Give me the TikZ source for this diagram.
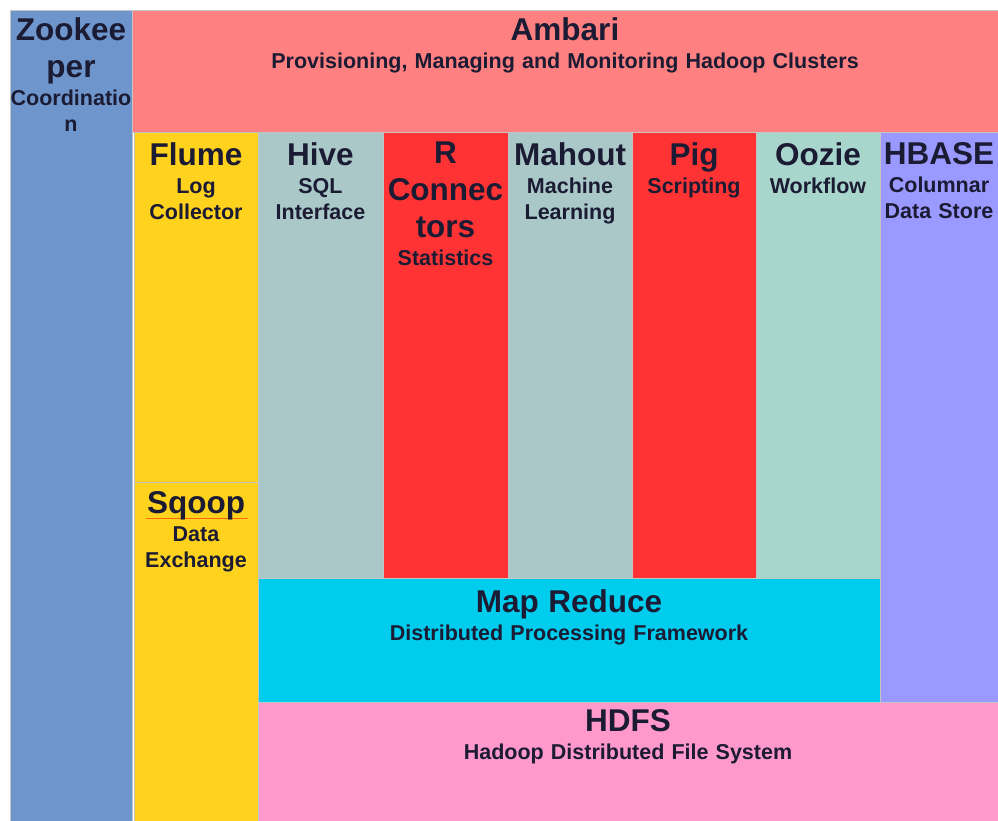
\documentclass[tikz,border=0pt]{standalone}
\usepackage{fontspec}
\setmainfont{Liberation Sans}
\usepackage{tikz}
\pgfdeclarelayer{boxlayer}
\pgfdeclarelayer{labellayer}
\pgfsetlayers{boxlayer,main,labellayer}
\definecolor{zkblue}{HTML}{6E96CD}
\definecolor{ambred}{HTML}{FF8080}
\definecolor{flumeyellow}{HTML}{FFD21E}
\definecolor{hivegray}{HTML}{AAC8C8}
\definecolor{ooziegreen}{HTML}{A8D6CC}
\definecolor{pigred}{HTML}{FF3333}
\definecolor{hbaseblue}{HTML}{9999FF}
\definecolor{mrcyan}{HTML}{00CCEE}
\definecolor{hdfspink}{HTML}{FF99CC}
\definecolor{linegray}{HTML}{C4C4C4}
\definecolor{ink}{HTML}{1B1B33}
\newcommand{\nohyph}{\hyphenpenalty=10000 \exhyphenpenalty=10000 }
\tikzstyle{block}=[draw=linegray, line width=0.8pt, rectangle, inner sep=0pt, outer sep=0pt, anchor=north west]
\tikzstyle{block text}=[anchor=north, inner sep=0pt, align=center, text=ink, font=\bfseries]
\newcommand{\btitle}[1]{\nohyph{\fontsize{31.5}{37}\selectfont\spaceskip=0.3em #1\par}\vskip2pt}
\newcommand{\bsub}[1]{{\fontsize{21.5}{26}\selectfont\spaceskip=0.33em #1\par}}

\begin{document}
\begin{tikzpicture}[x=1pt, y=-1pt]
    	\useasboundingbox (0, 0) rectangle (998, 821);
    	\begin{pgfonlayer}{boxlayer}
    		\node [style=block, fill=zkblue, minimum width=122pt, minimum height=811pt] (zk) at (10, 10) {};
    		\node [style=block, fill=ambred, minimum width=866pt, minimum height=122pt] (amb) at (132, 10) {};
    		\node [style=block, fill=flumeyellow, minimum width=124pt, minimum height=350pt] (flume) at (134, 132) {};
    		\node [style=block, fill=flumeyellow, minimum width=124pt, minimum height=339pt] (sqoop) at (134, 482) {};
    		\node [style=block, fill=hivegray, minimum width=125pt, minimum height=446pt] (hive) at (258, 132) {};
    		\node [style=block, fill=pigred, minimum width=125pt, minimum height=446pt] (rconn) at (383, 132) {};
    		\node [style=block, fill=hivegray, minimum width=124pt, minimum height=446pt] (mahout) at (508, 132) {};
    		\node [style=block, fill=pigred, minimum width=124pt, minimum height=446pt] (pig) at (632, 132) {};
    		\node [style=block, fill=ooziegreen, minimum width=124pt, minimum height=446pt] (oozie) at (756, 132) {};
    		\node [style=block, fill=hbaseblue, minimum width=118pt, minimum height=570pt] (hbase) at (880, 132) {};
    		\node [style=block, fill=mrcyan, minimum width=622pt, minimum height=124pt] (mapred) at (258, 578) {};
    		\node [style=block, fill=hdfspink, minimum width=740pt, minimum height=119pt] (hdfs) at (258, 702) {};
    	\end{pgfonlayer}
    	\begin{pgfonlayer}{labellayer}
    		\node [style=block text, text width=122pt] (zkl) at ([yshift=-7pt]zk.north) {\btitle{Zookee\par per}\bsub{Coordinatio\par n}};
    		\node [style=block text, text width=800pt] (ambl) at ([yshift=-7pt]amb.north) {\btitle{Ambari}\bsub{Provisioning, Managing and Monitoring Hadoop Clusters}};
    		\node [style=block text, text width=124pt] (flumel) at ([yshift=-10pt]flume.north) {\btitle{Flume}\bsub{Log\par Collector}};
    		\node [style=block text, text width=124pt] (sqoopl) at ([yshift=-9pt]sqoop.north) {\btitle{Sqoop}\bsub{Data\par Exchange}};
    		\node [style=block text, text width=125pt] (hivel) at ([yshift=-10pt]hive.north) {\btitle{Hive}\bsub{SQL\par Interface}};
    		\node [style=block text, text width=125pt] (rconnl) at ([yshift=-10pt]rconn.north) {\btitle{R\par Connec\par tors}\bsub{Statistics}};
    		\node [style=block text, text width=124pt] (mahoutl) at ([yshift=-10pt]mahout.north) {\btitle{Mahout}\bsub{Machine\par Learning}};
    		\node [style=block text, text width=124pt] (pigl) at ([yshift=-10pt]pig.north) {\btitle{Pig}\bsub{Scripting}};
    		\node [style=block text, text width=124pt] (ooziel) at ([yshift=-10pt]oozie.north) {\btitle{Oozie}\bsub{Workflow}};
    		\node [style=block text, text width=118pt] (hbasel) at ([yshift=-10pt]hbase.north) {\btitle{HBASE}\bsub{Columnar\par Data Store}};
    		\node [style=block text, text width=600pt] (mapredl) at ([yshift=-11pt]mapred.north) {\btitle{Map Reduce}\bsub{Distributed Processing Framework}};
    		\node [style=block text, text width=700pt] (hdfsl) at ([yshift=-7pt]hdfs.north) {\btitle{HDFS}\bsub{Hadoop Distributed File System}};
    	\end{pgfonlayer}
    	% spell-check mark under Sqoop
    	\draw [draw=orange!80!red, line width=0.8pt] (146, 518) -- (248, 518);
    \end{tikzpicture}
\end{document}
